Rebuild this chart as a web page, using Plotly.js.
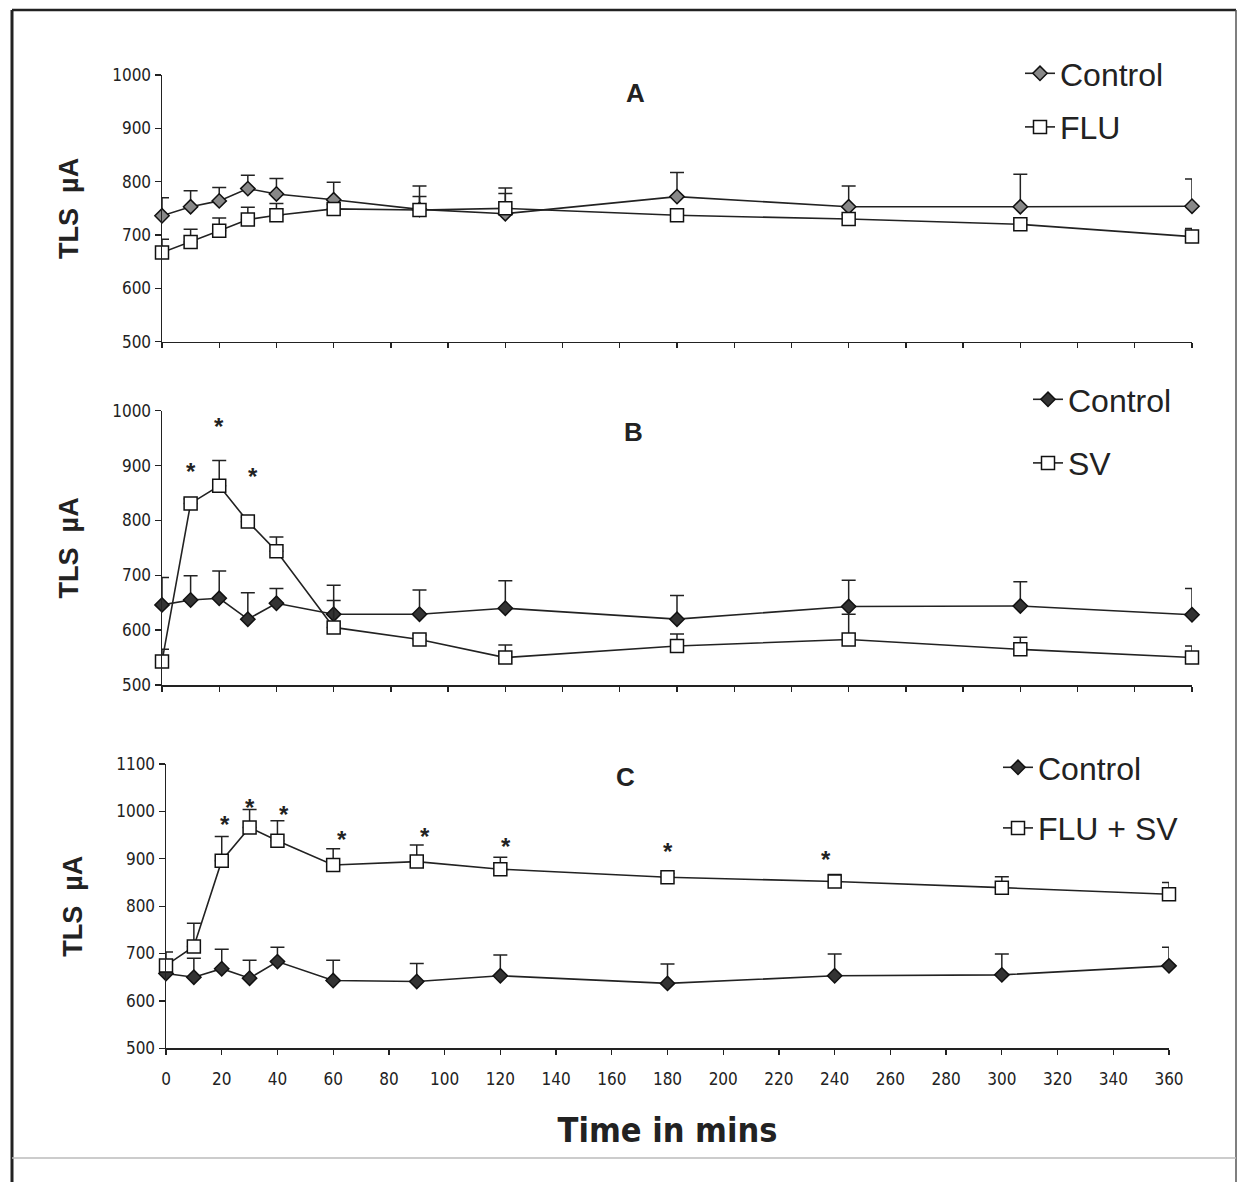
<!DOCTYPE html>
<html><head><meta charset="utf-8">
<script src="https://cdn.plot.ly/plotly-3.0.1.min.js"></script>
<style>html,body{margin:0;padding:0;background:#fff}#chart{width:1240px;height:1182px}</style>
</head><body><div id="chart"></div>
<script>
// ---- data ----
const time = [0, 10, 20, 30, 40, 60, 90, 120, 180, 240, 300, 360];

const controlA    = [736, 753, 764, 787, 777, 766, 748, 740, 772, 753, 753, 754];
const controlAErr = [34, 30, 25, 25, 29, 33, 44, 48, 45, 39, 61, 51];
const fluA        = [667, 687, 708, 729, 737, 749, 747, 750, 737, 730, 720, 697];
const fluAErr     = [25, 24, 24, 23, 22, 8, 25, 28, 8, 8, 8, 15];

const controlB    = [646, 655, 658, 620, 649, 629, 629, 640, 620, 643, 644, 628];
const controlBErr = [50, 44, 50, 48, 27, 53, 44, 50, 43, 48, 44, 48];
const svB         = [543, 831, 863, 798, 744, 605, 583, 550, 571, 583, 565, 550];
const svBErr      = [22, 8, 46, 8, 26, 49, 8, 23, 22, 46, 22, 21];

const controlC    = [658, 650, 668, 648, 683, 643, 641, 653, 637, 653, 655, 674];
const controlCErr = [20, 40, 41, 38, 30, 43, 38, 44, 41, 46, 44, 39];
const fluSvC      = [675, 715, 896, 966, 938, 887, 894, 878, 861, 852, 839, 825];
const fluSvCErr   = [28, 49, 51, 38, 42, 34, 35, 25, 8, 15, 23, 25];

const starsBx = [10, 20, 31.8];
const starsBy = [893, 975, 883];
const starsCx = [21, 30, 42.5, 63, 93, 122, 180, 237];
const starsCy = [982, 1018, 1003, 952, 957, 936, 926, 908];

const panelLabels = ['A', 'B', 'C'];
const legendNames = [['Control', 'FLU'], ['Control', 'SV'], ['Control', 'FLU + SV']];
const yTitle = 'TLS  µA';
const xTitle = 'Time in mins';

// ---- helpers ----
const W = 1240, H = 1182;
const px = v => v / W;
const py = v => 1 - v / H;
const zeros = a => a.map(() => 0);

function ctrlTrace(y, err, ax, leg, name, fill) {
  return {
    x: time, y: y, name: name, type: 'scatter', mode: 'lines+markers',
    xaxis: 'x' + ax, yaxis: 'y' + ax, legend: leg, legendgroup: leg + 'a',
    cliponaxis: false,
    line: {color: '#222', width: 1.6},
    marker: {symbol: 'diamond', size: 11, color: fill, line: {color: '#111', width: 1.5}},
    error_y: {type: 'data', symmetric: false, array: err, arrayminus: zeros(err),
              color: '#222', thickness: 1.5, width: 7}
  };
}
function sqTrace(y, err, ax, leg, name) {
  return {
    x: time, y: y, name: name, type: 'scatter', mode: 'lines+markers',
    xaxis: 'x' + ax, yaxis: 'y' + ax, legend: leg, legendgroup: leg + 'b',
    cliponaxis: false,
    line: {color: '#222', width: 1.6},
    marker: {symbol: 'square', size: 13, color: '#fff', line: {color: '#111', width: 1.5}},
    error_y: {type: 'data', symmetric: false, array: err, arrayminus: zeros(err),
              color: '#222', thickness: 1.5, width: 7}
  };
}

const data = [
  ctrlTrace(controlA, controlAErr, '', 'legend', legendNames[0][0], '#888'),
  sqTrace(fluA, fluAErr, '', 'legend', legendNames[0][1]),
  ctrlTrace(controlB, controlBErr, '2', 'legend2', legendNames[1][0], '#333'),
  sqTrace(svB, svBErr, '2', 'legend2', legendNames[1][1]),
  ctrlTrace(controlC, controlCErr, '3', 'legend3', legendNames[2][0], '#333'),
  sqTrace(fluSvC, fluSvCErr, '3', 'legend3', legendNames[2][1])
];

const tickFont = {family: 'Liberation Sans Narrow, DejaVu Sans Condensed, Arial, sans-serif', size: 17, color: '#222'};
const baseX = {range: [0, 360], dtick: 20, tick0: 0, showline: true, linecolor: '#222', linewidth: 1.5,
  ticks: 'outside', ticklen: 5, tickwidth: 1.3, tickcolor: '#222', showgrid: false, zeroline: false,
  tickfont: tickFont, fixedrange: true};
const baseY = {dtick: 100, showline: true, linecolor: '#222', linewidth: 1.5,
  ticks: 'outside', ticklen: 6, tickwidth: 1.3, tickcolor: '#222', showgrid: false, zeroline: false,
  tickfont: tickFont, fixedrange: true,
  title: {text: '<b>' + yTitle + '</b>', font: {family: 'Liberation Sans, Arial, sans-serif', size: 27, color: '#222'}, standoff: 25}};

const legFont = {family: 'Liberation Sans, Arial, sans-serif', size: 32, color: '#222'};
const legBase = {xanchor: 'left', yanchor: 'top', font: legFont, bgcolor: 'rgba(0,0,0,0)',
  traceorder: 'grouped', itemwidth: 30};

const layout = {
  width: W, height: H, margin: {l: 0, r: 0, t: 0, b: 0},
  paper_bgcolor: '#fff', plot_bgcolor: '#fff',
  xaxis:  Object.assign({}, baseX, {domain: [px(162), px(1192)], anchor: 'y', showticklabels: false}),
  yaxis:  Object.assign({}, baseY, {domain: [py(341.7), py(75)], range: [500, 1000], anchor: 'x'}),
  xaxis2: Object.assign({}, baseX, {domain: [px(162), px(1192)], anchor: 'y2', showticklabels: false}),
  yaxis2: Object.assign({}, baseY, {domain: [py(685), py(410.7)], range: [500, 1000], anchor: 'x2'}),
  xaxis3: Object.assign({}, baseX, {domain: [px(166), px(1169)], anchor: 'y3', ticklabelstandoff: 10,
            title: {text: '<b>' + xTitle + '</b>', font: {family: 'Liberation Sans Narrow, DejaVu Sans Condensed, Arial, sans-serif', size: 34, color: '#222'}, standoff: 30}}),
  yaxis3: Object.assign({}, baseY, {domain: [py(1048.3), py(764)], range: [500, 1100], anchor: 'x3'}),
  legend:  Object.assign({}, legBase, {x: px(1020), y: py(46), tracegroupgap: 9}),
  legend2: Object.assign({}, legBase, {x: px(1028), y: py(372), tracegroupgap: 19}),
  legend3: Object.assign({}, legBase, {x: px(998), y: py(740), tracegroupgap: 16}),
  showlegend: true,
  annotations: [],
  shapes: [
    {type: 'line', xref: 'paper', yref: 'paper', x0: px(12), x1: px(12), y0: py(10), y1: py(1182), line: {color: '#222', width: 3}},
    {type: 'line', xref: 'paper', yref: 'paper', x0: px(12), x1: px(1236), y0: py(10), y1: py(10), line: {color: '#222', width: 2.5}},
    {type: 'line', xref: 'paper', yref: 'paper', x0: px(1236), x1: px(1236), y0: py(10), y1: py(1182), line: {color: '#555', width: 1.5}},
    {type: 'line', xref: 'paper', yref: 'paper', x0: px(12), x1: px(1236), y0: py(1158), y1: py(1158), line: {color: '#bbb', width: 1.5}}
  ]
};

// panel letters
const letterPos = [[635, 93], [634, 432], [625, 777]];
panelLabels.forEach((t, i) => {
  layout.annotations.push({text: '<b>' + t + '</b>', xref: 'paper', yref: 'paper',
    x: px(letterPos[i][0]), y: py(letterPos[i][1]), xanchor: 'center', yanchor: 'middle', showarrow: false,
    font: {family: 'Liberation Sans, Arial, sans-serif', size: 26, color: '#222'}});
});
// significance asterisks
function addStars(xs, ys, ax, shift) {
  xs.forEach((x, i) => layout.annotations.push({text: '<b>*</b>', x: x, y: ys[i],
    xref: 'x' + ax, yref: 'y' + ax, showarrow: false, yshift: shift,
    font: {family: 'Liberation Sans, Arial, sans-serif', size: 24, color: '#222'}}));
}
addStars(starsBx, starsBy, '2', -2);
addStars(starsCx, starsCy, '3', -5);

Plotly.newPlot('chart', data, layout, {displayModeBar: false, staticPlot: true});
</script>
</body></html>
